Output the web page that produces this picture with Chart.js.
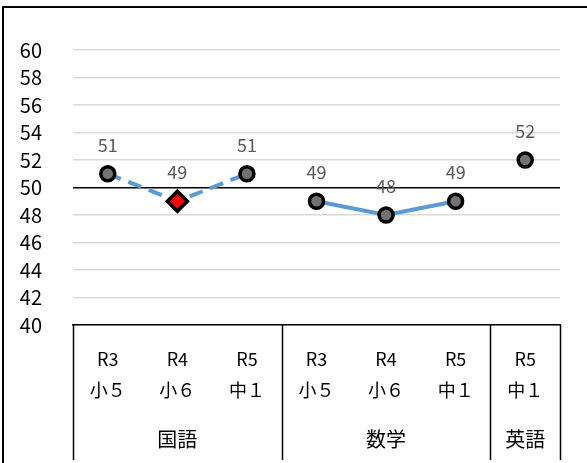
<!DOCTYPE html>
<html>
<head>
<meta charset="utf-8">
<script src="https://cdn.jsdelivr.net/npm/chart.js@4"></script>
<style>
  html, body { margin: 0; padding: 0; background: #fff; overflow: hidden; }
  #frame { position: absolute; left: 2px; top: 6px; width: 700px; height: 600px; border-left: 2px solid #000; border-top: 2px solid #000; }
  #c { position: absolute; left: 0; top: 0; }
</style>
</head>
<body>
<div id="frame"></div>
<canvas id="c" width="587" height="463"></canvas>
<script>
// ── data
const years = ["R3", "R4", "R5", "R3", "R4", "R5", "R5"];
const grades = ["小５", "小６", "中１", "小５", "小６", "中１", "中１"];
const subjects = ["国語", "数学", "英語"];
const subjectSpan = [3, 3, 1];
const kokugo = [51, 49, 51, null, null, null, null];
const sugaku = [null, null, null, 49, 48, 49, null];
const eigo = [null, null, null, null, null, null, 52];
const yMin = 40, yMax = 60, yStep = 2, yRef = 50;

const FONT = "'Noto Sans CJK JP', 'Noto Sans', sans-serif";
const BLUE = "#5b9bd5";
const DOT = "#767171";
const highlightIdx = 1; // R4 小６ 国語

const labels = years.map((y, i) => [y, grades[i]]);

// ── data labels above points
const valueLabels = {
  id: "valueLabels",
  afterDatasetsDraw(chart) {
    const ctx = chart.ctx;
    ctx.save();
    ctx.font = "18px " + FONT;
    ctx.fillStyle = "#595959";
    ctx.textAlign = "center";
    ctx.textBaseline = "middle";
    chart.data.datasets.forEach((ds, di) => {
      chart.getDatasetMeta(di).data.forEach((el, i) => {
        if (ds.data[i] == null) return;
        ctx.fillText(String(ds.data[i]), el.x, el.y - 29);
      });
    });
    ctx.restore();
  }
};

// ── subject group labels + separators under the axis
const groupAxis = {
  id: "groupAxis",
  afterDraw(chart) {
    const ctx = chart.ctx, x = chart.scales.x, area = chart.chartArea;
    const half = (x.getPixelForValue(1) - x.getPixelForValue(0)) / 2;
    ctx.save();
    ctx.strokeStyle = "#000";
    ctx.lineWidth = 1.5;
    ctx.font = "20px " + FONT;
    ctx.fillStyle = "#000";
    ctx.textAlign = "center";
    ctx.textBaseline = "middle";
    let start = 0;
    const edges = [x.getPixelForValue(0) - half];
    subjects.forEach((s, k) => {
      const end = start + subjectSpan[k] - 1;
      const left = x.getPixelForValue(start) - half;
      const right = x.getPixelForValue(end) + half;
      edges.push(right);
      ctx.fillText(s, (left + right) / 2, 439);
      start = end + 1;
    });
    edges.forEach(px => {
      ctx.beginPath();
      ctx.moveTo(Math.round(px) + 0.5, area.bottom);
      ctx.lineTo(Math.round(px) + 0.5, chart.height - 3);
      ctx.stroke();
    });
    ctx.restore();
  }
};

const pointOpts = {
  pointRadius: 7,
  pointBorderWidth: 3.5,
  pointBorderColor: "#000",
  pointBackgroundColor: DOT
};

new Chart(document.getElementById("c"), {
  type: "line",
  data: {
    labels,
    datasets: [
      {
        label: "国語", data: kokugo, borderColor: BLUE, borderWidth: 4, borderDash: [14, 8],
        ...pointOpts,
        pointStyle: c => c.dataIndex === highlightIdx ? "rectRot" : "circle",
        pointRadius: c => c.dataIndex === highlightIdx ? 10 : 7,
        pointBackgroundColor: c => c.dataIndex === highlightIdx ? "#ff0000" : DOT
      },
      { label: "数学", data: sugaku, borderColor: BLUE, borderWidth: 4, ...pointOpts },
      { label: "英語", data: eigo, showLine: false, ...pointOpts }
    ]
  },
  options: {
    responsive: false,
    animation: false,
    layout: { padding: { top: 50, right: 27, left: 0, bottom: 60 } },
    plugins: { legend: { display: false }, tooltip: { enabled: false } },
    scales: {
      x: {
        offset: true,
        grid: { display: false },
        border: { display: true, color: "#000", width: 1.5 },
        ticks: { color: "#000", font: { family: FONT, size: 18, lineHeight: 1.7 }, padding: 11, maxRotation: 0, autoSkip: false },
        afterFit: s => { s.height = 78; }
      },
      y: {
        min: yMin, max: yMax,
        border: { display: false },
        grid: {
          drawTicks: false,
          lineWidth: 1.5,
          color: c => c.tick && c.tick.value === yRef ? "#000" : "#d9d9d9"
        },
        ticks: { stepSize: yStep, color: "#000", font: { family: FONT, size: 20 }, padding: 31 },
        afterFit: s => { s.width = 73; }
      }
    }
  },
  plugins: [valueLabels, groupAxis]
});
</script>
</body>
</html>
